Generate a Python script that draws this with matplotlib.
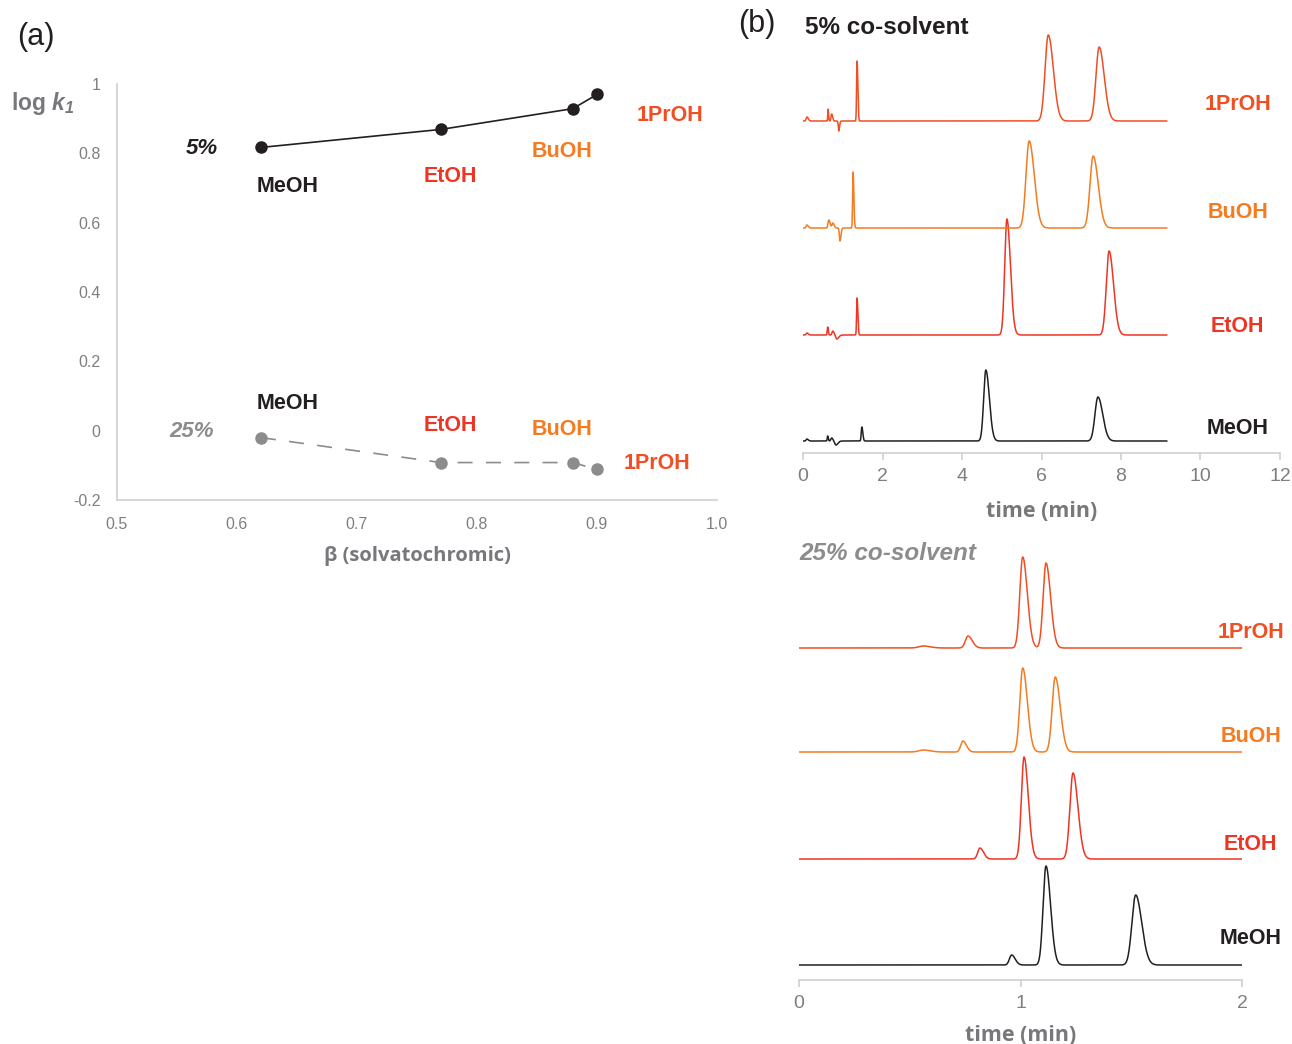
import numpy as np
import matplotlib
matplotlib.use("Agg")
import matplotlib.pyplot as plt

plt.rcParams['font.family'] = ['Liberation Sans', 'DejaVu Sans']
plt.rcParams['mathtext.fontset'] = 'custom'
plt.rcParams['mathtext.bfit'] = 'Liberation Sans:bold:italic'
plt.rcParams['mathtext.it'] = 'Liberation Sans:italic'
plt.rcParams['mathtext.bf'] = 'Liberation Sans:bold'

# =======================================================
# data

solvents = ['MeOH', 'EtOH', 'BuOH', '1PrOH']
beta = [0.62, 0.77, 0.88, 0.90]
logk_5 = [0.817, 0.869, 0.929, 0.970]
logk_25 = [-0.020, -0.092, -0.092, -0.112]

# chromatogram peaks: (retention time [min], height, sigma [min])
peaks_5 = {
    '1PrOH': [(0.10, 4, 0.02), (0.63, 12, 0.008), (0.72, 7, 0.015), (0.90, -10, 0.012),
              (1.36, 60, 0.012), (6.17, 86, 0.08), (7.45, 74, 0.08)],
    'BuOH': [(0.10, 3, 0.02), (0.65, 8, 0.02), (0.75, 5, 0.02), (0.93, -13, 0.015),
             (1.26, 56, 0.012), (5.69, 87, 0.08), (7.30, 72, 0.08)],
    'EtOH': [(0.10, 2, 0.02), (0.62, 8, 0.01), (0.75, 4, 0.02), (0.85, -4, 0.03),
             (1.36, 37, 0.012), (5.13, 116, 0.055), (7.70, 84, 0.07)],
    'MeOH': [(0.10, 2, 0.02), (0.62, 5, 0.01), (0.72, 3, 0.02), (0.83, -4, 0.03),
             (1.48, 14, 0.015), (4.60, 71, 0.055), (7.42, 44, 0.075)],
}
peaks_25 = {
    '1PrOH': [(0.56, 2, 0.02), (0.763, 12, 0.012), (1.01, 91, 0.013), (1.115, 85, 0.013)],
    'BuOH': [(0.56, 2, 0.02), (0.74, 11, 0.010), (1.01, 84, 0.013), (1.157, 75, 0.014)],
    'EtOH': [(0.817, 11, 0.010), (1.016, 102, 0.012), (1.237, 86, 0.014)],
    'MeOH': [(0.96, 10, 0.010), (1.115, 99, 0.013), (1.52, 70, 0.017)],
}
run_end_5 = 9.15
run_end_25 = 2.0

colors = {'MeOH': '#231F20', 'EtOH': '#EE3524', 'BuOH': '#F47B20', '1PrOH': '#F04E23'}
gray = '#8C8C8C'
tick_gray = '#7F7F7F'
label_gray = '#76787B'
spine_gray = '#D0D0D0'


def trace(t, peaks):
    # asymmetric gaussian peaks (tailing on the right side)
    y = np.zeros_like(t)
    for pos, h, w in peaks:
        s = np.where(t < pos, w, w * 1.6)
        y += h * np.exp(-0.5 * ((t - pos) / s) ** 2)
    return y


fig = plt.figure(figsize=(12.92, 10.44), dpi=100)

# =======================================================
# (a) log k1 vs beta

ax = fig.add_axes([117 / 1292, 1 - 500 / 1044, 600 / 1292, 416 / 1044])
ax.plot(beta, logk_5, '-', color='#231F20', lw=1.2, marker='o', ms=8, zorder=3)
ax.plot(beta, logk_25, '--', color=gray, lw=1.2, marker='o', ms=8, dashes=(9, 8), zorder=3)
ax.set_xlim(0.5, 1.0)
ax.set_ylim(-0.2, 1.0)
ax.set_xticks(np.arange(0.5, 1.01, 0.1))
ax.set_xticklabels(['0.5', '0.6', '0.7', '0.8', '0.9', '1.0'])
ax.set_yticks(np.arange(-0.2, 1.01, 0.2))
ax.set_yticklabels(['-0.2', '0', '0.2', '0.4', '0.6', '0.8', '1'])
for s in ['top', 'right']:
    ax.spines[s].set_visible(False)
for s in ['left', 'bottom']:
    ax.spines[s].set_color(spine_gray)
    ax.spines[s].set_linewidth(1.2)
ax.tick_params(length=0, labelsize=11.5, labelcolor=tick_gray, pad=12)
ax.tick_params(axis='y', pad=12)
ax.set_xlabel('β (solvatochromic)', fontsize=14.5, fontweight='bold', color=label_gray,
              labelpad=10, family=['Open Sans', 'DejaVu Sans'])
ax.text(-0.177, 0.952, r'log $\mathbfit{k}_{\mathbfit{1}}$', transform=ax.transAxes,
        fontsize=16.5, fontweight='bold', color=label_gray, ha='left', va='center')

lab5 = [(0.6425, 0.705), (0.778, 0.734), (0.871, 0.806), (0.961, 0.909)]
lab25 = [(0.642, 0.078), (0.778, 0.014), (0.871, 0.003), (0.950, -0.095)]
for name, (x, y) in zip(solvents, lab5):
    ax.text(x, y, name, color=colors[name], fontsize=15.5, fontweight='bold', ha='center', va='center')
for name, (x, y) in zip(solvents, lab25):
    ax.text(x, y, name, color=colors[name], fontsize=15.5, fontweight='bold', ha='center', va='center')
ax.text(0.571, 0.815, '5%', color='#231F20', fontsize=16, fontweight='bold', style='italic',
        ha='center', va='center')
ax.text(0.562, -0.003, '25%', color=gray, fontsize=16, fontweight='bold', style='italic',
        ha='center', va='center')

fig.text(36 / 1292, 1 - 37 / 1044, '(a)', fontsize=22, ha='center', va='center', color='#231F20')
fig.text(757 / 1292, 1 - 24 / 1044, '(b)', fontsize=22, ha='center', va='center', color='#231F20')

# =======================================================
# (b) chromatograms


def chrom_axes(rect, xmax, xticks, ylim, labelpad):
    a = fig.add_axes(rect)
    a.set_xlim(0, xmax)
    a.set_ylim(*ylim)
    a.set_xticks(xticks)
    a.set_yticks([])
    for s in ['top', 'right', 'left']:
        a.spines[s].set_visible(False)
    a.spines['bottom'].set_color(spine_gray)
    a.spines['bottom'].set_linewidth(1.2)
    a.tick_params(axis='x', direction='out', length=5, width=1.2, color=spine_gray,
                  labelsize=14, labelcolor=tick_gray, pad=6)
    a.set_xlabel('time (min)', fontsize=15.5, fontweight='bold', color=label_gray,
                 labelpad=labelpad, family=['Open Sans', 'DejaVu Sans'])
    return a


offsets = {'1PrOH': 332, 'BuOH': 225, 'EtOH': 118, 'MeOH': 12}

axt = chrom_axes([803 / 1292, 1 - 453 / 1044, 477 / 1292, 423 / 1044], 12, range(0, 13, 2),
                 (0, 423), 11)
t5 = np.linspace(0, run_end_5, 3000)
lab_y5 = {'1PrOH': 348, 'BuOH': 241, 'EtOH': 127, 'MeOH': 25}
for name in solvents:
    axt.plot(t5, offsets[name] + trace(t5, peaks_5[name]), color=colors[name], lw=1.1)
    axt.text(10.94, lab_y5[name], name, color=colors[name], fontsize=15.5, fontweight='bold',
             ha='center', va='center')
axt.text(0.05, 425, '5% co-solvent', color='#231F20', fontsize=17.5, fontweight='bold',
         ha='left', va='center', clip_on=False)

offsets25 = {'1PrOH': 332, 'BuOH': 228, 'EtOH': 121, 'MeOH': 15}
axb = chrom_axes([799 / 1292, 1 - 980 / 1044, 443 / 1292, 440 / 1044], 2, [0, 1, 2],
                 (0, 440), 9)
t25 = np.linspace(0, run_end_25, 3000)
lab_y25 = {'1PrOH': 348, 'BuOH': 243, 'EtOH': 135, 'MeOH': 42}
for name in solvents:
    axb.plot(t25, offsets25[name] + trace(t25, peaks_25[name]), color=colors[name], lw=1.1)
    axb.text(2.04, lab_y25[name], name, color=colors[name], fontsize=15.5, fontweight='bold',
             ha='center', va='center', clip_on=False)
axb.text(0.0, 427, '25% co-solvent', color=gray, fontsize=17.5, fontweight='bold', style='italic',
         ha='left', va='center', clip_on=False)

fig.savefig('out.png', dpi=100)
